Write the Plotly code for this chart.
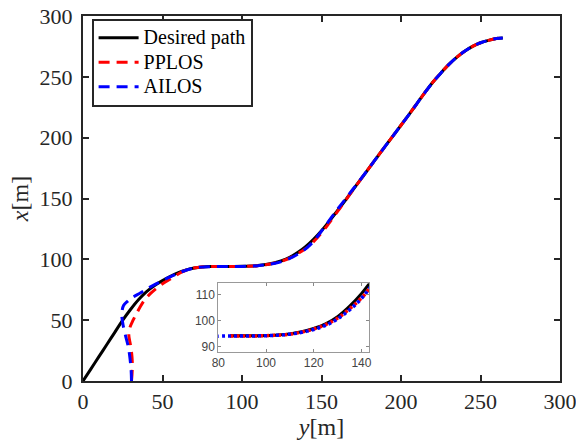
import plotly.graph_objects as go

# ---------------- data ----------------
# Desired path: horizontal coordinate y [m], vertical coordinate x [m]
des_y = [0, 5, 10, 15, 20, 25, 30, 35, 40, 45, 50, 55, 60, 65, 70, 75, 80, 85, 90, 95,
         100, 105, 110, 115, 120, 125, 130, 135, 140, 145, 150, 155, 160, 165, 170, 175,
         180, 185, 190, 195, 200, 205, 210, 215, 220, 225, 230, 235, 240, 245, 250, 255,
         260, 264]
des_x = [0, 10, 20, 30, 40, 50, 59, 67, 73.5, 78.5, 82.5, 86, 89, 91.2, 92.8, 93.7, 94.1, 94.2, 94.2, 94.2,
         94.3, 94.5, 94.9, 95.7, 97, 98.8, 101.6, 105.6, 110.5, 116.5, 123.5, 131.5, 140, 148.5, 157.5, 166.3,
         175.2, 184, 192.8, 201.5, 210.2, 219, 228, 237, 245.5, 253, 260, 266, 271, 275, 278, 280,
         281.5, 282]

# PPLOS vehicle trajectory
pp_y = [30.5, 31, 30.8, 29.8, 28.8, 29.5, 31.5, 33.5, 36, 39, 42.5, 47, 52, 57, 62, 67, 72, 77,
        85, 90, 95, 100, 105, 110, 115, 120, 125, 130, 135, 140, 145, 150, 155, 160, 165, 170,
        175, 180, 185, 190, 195, 200, 205, 210, 215, 220, 225, 230, 235, 240, 245, 250, 255,
        260, 264]
pp_x = [0, 10, 20, 30, 38, 44, 50, 55, 61, 67, 72, 77, 81.5, 85.5, 89.5, 92, 93.3, 93.9,
        94.1, 94.1, 94.1, 94.2, 94.4, 94.8, 95.6, 96.8, 98.5, 101, 104.6, 108.8, 114.5, 121.7, 130.2, 139.2, 148.2, 157.4,
        166.3, 175.2, 184, 192.8, 201.5, 210.2, 219, 228, 237, 245.5, 253, 260, 266, 271, 275, 278, 280,
        281.5, 282]

# AILOS vehicle trajectory
ai_y = [30.5, 30.3, 29.6, 28.5, 26.6, 25.2, 24.5, 24.5, 25.5, 28, 31.5, 36, 40, 44.5, 49, 53, 58, 63, 68,
        74, 80, 85, 90, 95, 100, 105, 110, 115, 120, 125, 130, 135, 140, 145, 150, 155, 160, 165, 170,
        175, 180, 185, 190, 195, 200, 205, 210, 215, 220, 225, 230, 235, 240, 245, 250, 255, 260, 264]
ai_x = [0, 8, 18, 28, 38, 46, 52, 57, 62, 65.5, 69, 72.3, 75.5, 78.8, 81.8, 84.5, 87.5, 90.2, 92.2,
        93.6, 94, 94.1, 94.1, 94.1, 94.2, 94.4, 94.8, 95.5, 96.6, 98.2, 100.7, 104.2, 108.6, 114.8, 123.2, 132.2, 141, 149.5, 158,
        166.5, 175.2, 184, 192.8, 201.5, 210.2, 219, 228, 237, 245.5, 253, 260, 266, 271, 275, 278, 280,
        281.5, 282]

main_ticks = [0, 50, 100, 150, 200, 250, 300]
inset_xticks = [80, 100, 120, 140]
inset_yticks = [90, 100, 110]

# ---------------- figure ----------------
SERIF = "Liberation Serif, Times New Roman, serif"
INK = "#262626"
fig = go.Figure()


def legend_label(s):
    return '<span style="font-size:20px">' + s + '</span>'


dash_main = "11px,7px"
LW = 3
fig.add_trace(go.Scatter(x=des_y, y=des_x, mode="lines", name=legend_label("Desired path"),
                         line=dict(color="black", width=LW, shape="spline"),
                         xaxis="x", yaxis="y"))
fig.add_trace(go.Scatter(x=pp_y, y=pp_x, mode="lines", name=legend_label("PPLOS"),
                         line=dict(color="#ff0000", width=LW, dash=dash_main, shape="spline"),
                         xaxis="x", yaxis="y"))
fig.add_trace(go.Scatter(x=ai_y, y=ai_x, mode="lines", name=legend_label("AILOS"),
                         line=dict(color="#0000ff", width=LW, dash=dash_main, shape="spline"),
                         xaxis="x", yaxis="y"))


# inset traces (same data, zoomed window)
def sub(ys, xs, lo):
    pairs = [(a, b) for a, b in zip(ys, xs) if a >= lo]
    return [p[0] for p in pairs], [p[1] for p in pairs]


iy, ix = sub(des_y, des_x, 85)
fig.add_trace(go.Scatter(x=iy, y=ix, mode="lines", showlegend=False,
                         line=dict(color="black", width=3, shape="spline"),
                         xaxis="x2", yaxis="y2"))
iy, ix = sub(pp_y, pp_x, 85)
fig.add_trace(go.Scatter(x=iy, y=ix, mode="lines", showlegend=False,
                         line=dict(color="#ff0000", width=3.5, dash="3px,3px", shape="spline"),
                         xaxis="x2", yaxis="y2"))
iy, ix = sub(ai_y, ai_x, 74)
fig.add_trace(go.Scatter(x=iy, y=ix, mode="lines", showlegend=False,
                         line=dict(color="#0000ff", width=3.5, dash="3px,3px", shape="spline"),
                         xaxis="x2", yaxis="y2"))

main_axis = dict(range=[0, 300], tickvals=main_ticks, ticks="inside", ticklen=6, tickwidth=2,
                 tickcolor=INK, showline=True, linecolor=INK, linewidth=2, mirror="ticks",
                 showgrid=False, zeroline=False, ticklabeloverflow="allow", automargin=False,
                 tickfont=dict(family=SERIF, size=22, color=INK))

inset_axis = dict(ticks="inside", ticklen=3, tickwidth=1, tickcolor="#888", showline=True,
                  linecolor="#999", linewidth=1, mirror="ticks", showgrid=False, zeroline=False,
                  automargin=False,
                  tickfont=dict(family="Liberation Sans, Arial, sans-serif", size=12, color="#444"))

fig.update_layout(
    width=576, height=446,
    margin=dict(l=83, r=16, t=16, b=65, autoexpand=False),
    paper_bgcolor="white", plot_bgcolor="white",
    xaxis=dict(main_axis, domain=[0, 1],
               title=dict(text="<i>y</i>[m]", font=dict(family=SERIF, size=24, color=INK),
                          standoff=2)),
    yaxis=dict(main_axis, domain=[0, 1], ticklabelstandoff=4,
               title=dict(text="<i>x</i>[m]", font=dict(family=SERIF, size=24, color=INK),
                          standoff=4)),
    xaxis2=dict(inset_axis, domain=[0.2837, 0.6002], anchor="y2", range=[80, 143.3],
                tickvals=inset_xticks),
    yaxis2=dict(inset_axis, domain=[0.0803, 0.2677], anchor="x2", range=[88, 114.5],
                tickvals=inset_yticks),
    legend=dict(x=0.018, y=0.993, xanchor="left", yanchor="top",
                bgcolor="white", bordercolor=INK, borderwidth=2,
                font=dict(family=SERIF, size=16.5, color="black"),
                tracegroupgap=0, itemwidth=40),
    showlegend=True,
)

fig.write_html("out.html")
